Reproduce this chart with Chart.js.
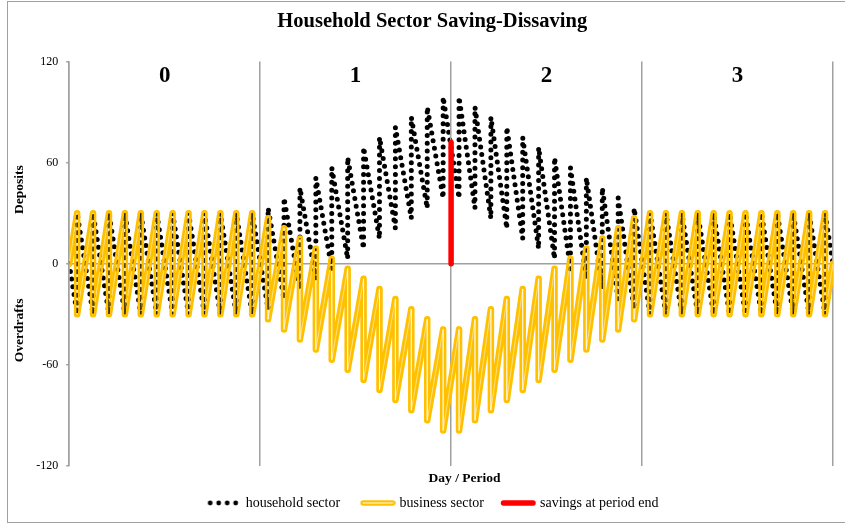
<!DOCTYPE html>
<html><head><meta charset="utf-8">
<script src="https://cdn.jsdelivr.net/npm/chart.js@4.4.1/dist/chart.umd.min.js"></script>
<style>
html,body{margin:0;padding:0;background:#fff;}
#wrap{position:relative;width:845px;height:527px;overflow:hidden;}
#frame{position:absolute;left:7px;top:1px;width:900px;height:520px;border:1px solid #a0a0a0;pointer-events:none;}
canvas{display:block;}
</style></head><body>
<div id="wrap"><canvas id="c" width="845" height="527"></canvas><div id="frame"></div></div>
<script>
// ---- data ----
const periodLabels = ['0', '1', '2', '3'];
const monthsPerPeriod = 12;
const yTicks = [-120, -60, 0, 60, 120];
// business sector balance just before each (mid-month) wage payment
const businessPeaks = [
  30, 30, 30, 30, 30, 30, 30, 30, 30, 30, 30, 30,
  27, 21, 15, 9, 3, -3, -9, -15, -21, -27, -33, -39,
  -39, -33, -27, -21, -15, -9, -3, 3, 9, 15, 21, 27,
  30, 30, 30, 30, 30, 30, 30, 30, 30, 30, 30, 30
];
// business sector balance just after each wage payment
const businessTroughs = [
  -30, -30, -30, -30, -30, -30, -30, -30, -30, -30, -30, -30,
  -33, -39, -45, -51, -57, -63, -69, -75, -81, -87, -93, -99,
  -99, -93, -87, -81, -75, -69, -63, -57, -51, -45, -39, -33,
  -30, -30, -30, -30, -30, -30, -30, -30, -30, -30, -30, -30
];
// household sector balance just before each wage payment
const householdLows = [
  -30, -30, -30, -30, -30, -30, -30, -30, -30, -30, -30, -30,
  -27, -21, -15, -9, -3, 3, 9, 15, 21, 27, 33, 39,
  39, 33, 27, 21, 15, 9, 3, -3, -9, -15, -21, -27,
  -30, -30, -30, -30, -30, -30, -30, -30, -30, -30, -30, -30
];
// household sector balance just after each wage payment
const householdHighs = [
  30, 30, 30, 30, 30, 30, 30, 30, 30, 30, 30, 30,
  33, 39, 45, 51, 57, 63, 69, 75, 81, 87, 93, 99,
  99, 93, 87, 81, 75, 69, 63, 57, 51, 45, 39, 33,
  30, 30, 30, 30, 30, 30, 30, 30, 30, 30, 30, 30
];
const startBalance = 0;
const endBalance = 0;
const savingsMonth = 24;          // end of period 1
const savingsAtPeriodEnd = [0, 72];

// ---- build series ----
const nMonths = businessPeaks.length;
const businessSeries = [{x: 0, y: startBalance}];
const householdSeries = [{x: 0, y: startBalance}];
for (let k = 0; k < nMonths; k++) {
  const payday = k + 0.5;
  businessSeries.push({x: payday, y: businessPeaks[k]}, {x: payday, y: businessTroughs[k]});
  householdSeries.push({x: payday, y: householdLows[k]}, {x: payday, y: householdHighs[k]});
}
businessSeries.push({x: nMonths, y: endBalance});
householdSeries.push({x: nMonths, y: endBalance});
const savingsSeries = savingsAtPeriodEnd.map(v => ({x: savingsMonth, y: v}));

// ---- legend swatches ----
function swatch(w, h, draw) { const c = document.createElement('canvas'); c.width = w; c.height = h; draw(c.getContext('2d')); return c; }
const dotsImg = swatch(36, 8, g => { g.fillStyle = '#000'; [4.5, 13, 21.5, 30].forEach(x => { g.beginPath(); g.arc(x, 4, 2.4, 0, Math.PI * 2); g.fill(); }); });
const bizImg = swatch(36, 8, g => { g.strokeStyle = '#FFC000'; g.lineWidth = 5.5; g.lineCap = 'round'; g.beginPath(); g.moveTo(3.5, 4); g.lineTo(33, 4); g.stroke(); g.strokeStyle = '#fff'; g.lineWidth = 1; g.beginPath(); g.moveTo(3.5, 4); g.lineTo(33, 4); g.stroke(); });
const redImg = swatch(36, 8, g => { g.strokeStyle = '#FF0000'; g.lineWidth = 5.5; g.lineCap = 'round'; g.beginPath(); g.moveTo(3.5, 4); g.lineTo(33, 4); g.stroke(); });

const serif = "'Liberation Serif', 'Times New Roman', serif";
Chart.defaults.font.family = serif;
Chart.defaults.color = '#000';
const axisGray = '#a0a0a0';

const composePlugin = {
  id: 'compose',
  beforeDatasetDraw(chart, args) { const ds = chart.data.datasets[args.index]; if (ds.composite) { chart.ctx.save(); chart.ctx.globalCompositeOperation = ds.composite; } },
  afterDatasetDraw(chart, args) { const ds = chart.data.datasets[args.index]; if (ds.composite) chart.ctx.restore(); }
};
const periodLabelPlugin = {
  id: 'periodLabels',
  afterDraw(chart) {
    const x = chart.scales.x, y = chart.scales.y, ctx = chart.ctx;
    ctx.save();
    ctx.font = 'bold 23px ' + serif; ctx.fillStyle = '#000'; ctx.textAlign = 'center'; ctx.textBaseline = 'middle';
    periodLabels.forEach((lab, i) => ctx.fillText(lab, x.getPixelForValue((i + 0.5) * monthsPerPeriod), y.top + 14));
    ctx.restore();
  }
};

new Chart(document.getElementById('c'), {
  type: 'line',
  data: { datasets: [
    { label: 'household sector', data: householdSeries, borderColor: '#000', borderWidth: 5, borderDash: [0, 7.8], borderCapStyle: 'round', pointRadius: 0, tension: 0, order: 2, composite: 'destination-over' },
    { label: 'business sector', data: businessSeries, borderColor: '#FFC000', borderWidth: 6.5, borderJoinStyle: 'round', borderCapStyle: 'round', pointRadius: 0, tension: 0, order: 4 },
    { label: 'business gap', data: businessSeries, borderColor: '#000', borderWidth: 0.5, borderJoinStyle: 'round', pointRadius: 0, tension: 0, order: 3, composite: 'destination-out' },
    { label: 'savings at period end', data: savingsSeries, borderColor: '#FF0000', borderWidth: 5.5, borderCapStyle: 'round', pointRadius: 0, order: 1 }
  ]},
  options: {
    responsive: false, animation: false,
    layout: { padding: { left: 11, right: 12, top: 0, bottom: 7 } },
    scales: {
      x: { type: 'linear', min: 0, max: nMonths,
        ticks: { stepSize: monthsPerPeriod, display: false },
        grid: { color: axisGray, lineWidth: 1.5, drawTicks: false },
        border: { display: false },
        title: { display: true, text: ' '.repeat(8) + 'Day / Period', font: { size: 13.5, weight: 'bold' }, padding: { top: 5, bottom: 4 } } },
      y: { min: yTicks[0], max: yTicks[yTicks.length - 1],
        afterBuildTicks: s => { s.ticks = yTicks.map(v => ({value: v})); },
        ticks: { font: { size: 12 }, padding: 8 },
        grid: { color: c => c.tick && c.tick.value === 0 ? axisGray : 'rgba(0,0,0,0)', lineWidth: 1.5, tickColor: axisGray, tickLength: 3 },
        border: { color: axisGray, width: 1.5 },
        title: { display: true, text: 'Overdrafts' + ' '.repeat(25) + 'Deposits', font: { size: 13.5, weight: 'bold' }, padding: { top: 0, bottom: 1 } } }
    },
    plugins: {
      title: { display: true, text: ' '.repeat(4) + 'Household Sector Saving-Dissaving', font: { size: 20.5, weight: 'bold' }, padding: { top: 9, bottom: 28 } },
      legend: { position: 'bottom', fullSize: false,
        labels: { usePointStyle: true, pointStyleWidth: 30, boxHeight: 8, padding: 5, font: { size: 14 },
          generateLabels: () => [
            { text: 'household sector' + ' '.repeat(5), pointStyle: dotsImg, datasetIndex: 0, lineWidth: 0, hidden: false },
            { text: 'business sector' + ' '.repeat(4), pointStyle: bizImg, datasetIndex: 1, lineWidth: 0, hidden: false },
            { text: 'savings at period end' + ' '.repeat(10), pointStyle: redImg, datasetIndex: 3, lineWidth: 0, hidden: false }
          ] } },
      tooltip: { enabled: false }
    }
  },
  plugins: [composePlugin, periodLabelPlugin]
});
</script></body></html>
